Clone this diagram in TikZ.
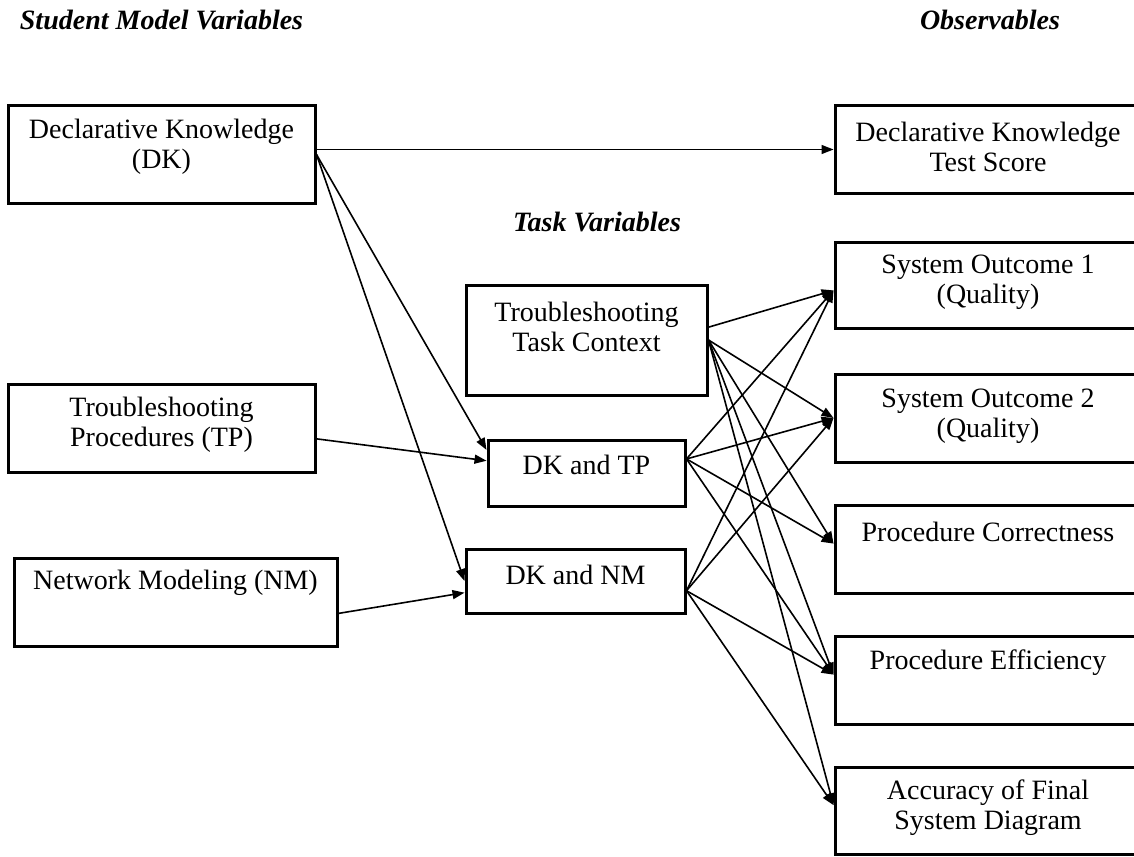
\documentclass[tikz,border=0pt]{standalone}
\usepackage{fontspec}
\setmainfont{Liberation Serif}
\usetikzlibrary{arrows.meta,fit}
\begin{document}
\begin{tikzpicture}[x=0.5pt,y=-0.5pt,
  box/.style={draw, line width=1.5pt, inner sep=0pt},
  lbl/.style={align=center, inner sep=0pt, font=\fontsize{14}{15}\selectfont},
  head/.style={inner sep=0pt, font=\fontsize{14}{15}\selectfont\bfseries\itshape},
  conn/.style={line width=0.8pt, -{Triangle[length=6pt,width=4.5pt]}}]
\useasboundingbox (0,0) rectangle (1134,856);
\clip (0,0) rectangle (1134,856);

% headings
\node[head] (h1) at (161.5,20) {Student Model Variables};
\node[head] (h2) at (990,20) {Observables};
\node[head] (h3) at (597,222) {Task Variables};

% boxes
\node[box, fit={(8,106) (315,203)}] (dk) {};
\node[box, fit={(8,384) (315,472)}] (tp) {};
\node[box, fit={(14,558) (337,646)}] (nm) {};
\node[box, fit={(466,285) (707,395)}] (ttc) {};
\node[box, fit={(488,440) (685,506)}] (dktp) {};
\node[box, fit={(466,549) (685,613)}] (dknm) {};
\node[box, fit={(835,106) (1141,193)}] (dkts) {};
\node[box, fit={(835,242) (1141,328)}] (so1) {};
\node[box, fit={(835,374) (1141,462)}] (so2) {};
\node[box, fit={(835,505) (1141,593)}] (pc) {};
\node[box, fit={(835,636) (1141,724)}] (pe) {};
\node[box, fit={(835,767) (1141,854)}] (afsd) {};

% labels
\node[lbl] (dk-t) at (161.5,147) {Declarative Knowledge\\(DK)};
\node[lbl] (tp-t) at (161.5,425) {Troubleshooting\\Procedures (TP)};
\node[lbl] (nm-t) at (175.5,583) {Network Modeling (NM)};
\node[lbl] (ttc-t) at (586.5,327) {Troubleshooting\\Task Context};
\node[lbl] (dktp-t) at (586.5,465) {DK and TP};
\node[lbl] (dknm-t) at (575.5,575) {DK and NM};
\node[lbl] (dkts-t) at (988,147) {Declarative Knowledge\\Test Score};
\node[lbl] (so1-t) at (988,282) {System Outcome 1\\(Quality)};
\node[lbl] (so2-t) at (988,416) {System Outcome 2\\(Quality)};
\node[lbl] (pc-t) at (988,532) {Procedure Correctness};
\node[lbl] (pe-t) at (988,663) {Procedure Efficiency};
\node[lbl] (afsd-t) at (988,808) {Accuracy of Final\\System Diagram};

% connectors
\draw[conn] (dk.east |- dkts.west) -- (dkts.west);
\draw[conn] (dk.east) -- (dktp.167);
\draw[conn] (dk.east) -- (dknm.west);
\draw[conn] (tp.356) -- (dktp.173);
\draw[conn] (nm.356) -- (dknm.186);

\draw[conn] (ttc.6) -- (so1.182);
\draw[conn] (ttc.east) -- (so2.west);
\draw[conn] (ttc.east) -- (pc.178);
\draw[conn] (ttc.east) -- (pe.178);
\draw[conn] (ttc.east) -- (afsd.178);

\draw[conn] (dktp.8) -- (so1.182);
\draw[conn] (dktp.8) -- (so2.west);
\draw[conn] (dktp.8) -- (pc.178);
\draw[conn] (dktp.8) -- (pe.178);

\draw[conn] (dknm.355) -- (so1.182);
\draw[conn] (dknm.355) -- (so2.west);
\draw[conn] (dknm.355) -- (pe.178);
\draw[conn] (dknm.355) -- (afsd.178);
\end{tikzpicture}
\end{document}
